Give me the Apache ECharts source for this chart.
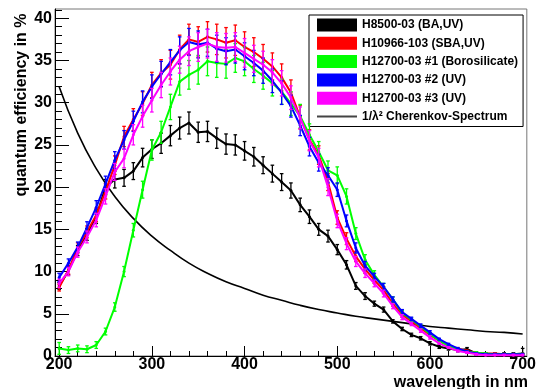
<!DOCTYPE html>
<html><head><meta charset="utf-8">
<script src="https://cdn.jsdelivr.net/npm/echarts@6/dist/echarts.min.js"></script>
<style>html,body{margin:0;padding:0;background:#fff}#c{width:539px;height:389px}</style>
</head><body><div id="c"></div>
<script>
const wavelength = [200,210,220,230,240,250,260,270,280,290,300,310,320,330,340,350,360,370,380,390,400,410,420,430,440,450,460,470,480,490,500,510,520,530,540,550,560,570,580,590,600,610,620,630,640,650,660,670,680,690,700];
const h8500 = [8.3,10.1,12.5,14.4,16.5,20.0,20.9,21.1,21.9,23.5,24.5,25.2,26.1,27.0,27.6,26.5,26.6,25.8,25.1,25.0,24.3,23.6,22.6,21.6,20.6,19.6,17.9,16.5,15.0,14.2,12.6,10.8,8.3,7.1,6.2,5.5,4.1,3.2,2.5,2.1,1.5,1.1,0.9,0.7,0.8,0.3,0.2,0.2,0.2,0.2,0.3];
const h8500Err = [0.4,0.5,0.6,0.7,0.8,0.9,1.0,1.0,1.0,1.1,1.1,1.2,1.2,1.3,1.3,1.2,1.2,1.2,1.2,1.2,1.1,1.1,1.0,1.0,1.0,0.9,0.8,0.8,0.7,0.7,0.6,0.5,0.4,0.4,0.3,0.3,0.2,0.2,0.2,0.2,0.2,0.2,0.2,0.2,0.2,0.2,0.2,0.2,0.2,0.2,0.6];
const h10966 = [8.1,10.2,12.8,14.7,16.7,19.5,22.6,26.0,28.0,29.9,32.1,33.5,34.5,36.3,37.5,37.2,37.8,37.5,37.1,37.4,36.6,36.0,35.2,34.3,33.0,31.2,28.3,25.6,23.8,20.6,16.4,13.9,11.8,10.3,9.0,7.8,6.2,4.9,4.1,3.3,2.5,1.8,1.2,0.9,0.6,0.4,0.3,0.3,0.2,0.2,0.2];
const h10966Err = [0.4,0.5,0.6,0.7,0.8,0.9,1.1,1.2,1.3,1.4,1.5,1.6,1.7,1.7,1.8,1.8,1.8,1.8,1.8,1.8,1.8,1.7,1.7,1.6,1.6,1.5,1.4,1.2,1.1,1.0,0.8,0.7,0.6,0.5,0.4,0.4,0.3,0.3,0.2,0.2,0.2,0.1,0.1,0.1,0.1,0.1,0.1,0.1,0.1,0.1,0.1];
const h12700a = [0.9,0.7,0.9,0.8,1.3,2.9,5.8,10.0,14.9,19.7,24.4,26.5,29.5,32.5,33.3,33.9,34.9,34.7,34.6,35.3,34.9,34.0,33.2,32.3,31.3,29.9,28.4,26.2,24.2,22.0,21.4,18.9,14.5,11.4,9.6,8.2,6.7,5.1,4.3,3.5,2.6,1.8,1.2,0.8,0.5,0.4,0.3,0.2,0.2,0.2,0.2];
const h12700aErr = [0.7,0.4,0.4,0.4,0.4,0.4,0.5,0.6,0.8,1.0,1.2,1.3,1.5,1.6,1.7,1.7,1.7,1.7,1.7,1.7,1.7,1.6,1.6,1.5,1.5,1.4,1.4,1.3,1.2,1.1,1.0,0.9,0.7,0.6,0.5,0.4,0.3,0.3,0.2,0.2,0.2,0.2,0.1,0.1,0.1,0.1,0.1,0.1,0.1,0.1,0.1];
const h12700b = [9.3,11.0,12.9,15.2,17.6,20.4,23.2,25.6,27.8,30.1,31.9,33.4,34.8,36.2,37.2,36.9,37.1,36.4,36.1,36.3,35.5,34.7,33.8,32.6,31.2,29.6,27.3,24.8,22.9,21.4,19.7,16.0,12.8,10.7,9.4,8.2,6.7,5.2,4.4,3.6,2.8,2.0,1.4,0.9,0.5,0.3,0.2,0.2,0.2,0.2,0.2];
const h12700bErr = [0.5,0.5,0.6,0.7,0.8,0.9,1.0,1.1,1.2,1.3,1.4,1.5,1.5,1.6,1.6,1.6,1.6,1.6,1.6,1.6,1.6,1.5,1.5,1.4,1.4,1.3,1.2,1.1,1.0,0.9,0.8,0.7,0.6,0.5,0.4,0.4,0.3,0.3,0.2,0.2,0.2,0.1,0.1,0.1,0.1,0.1,0.1,0.1,0.1,0.1,0.1];
const h12700c = [8.6,10.0,12.3,14.1,16.1,18.9,21.8,23.4,26.2,28.4,30.3,32.1,33.7,35.1,36.1,36.6,37.0,36.6,36.5,36.6,35.9,35.2,34.5,33.6,32.3,30.6,28.2,25.5,23.5,20.0,16.0,13.3,11.2,9.8,8.6,7.4,5.9,4.6,3.8,3.0,2.2,1.5,1.0,0.6,0.4,0.2,0.1,0.1,0.1,0.1,0.1];
const h12700cErr = [0.5,0.5,0.6,0.7,0.8,0.9,1.0,1.1,1.2,1.3,1.4,1.5,1.6,1.6,1.7,1.7,1.7,1.7,1.7,1.7,1.7,1.6,1.6,1.5,1.5,1.4,1.3,1.2,1.1,1.0,0.8,0.7,0.6,0.5,0.4,0.4,0.3,0.3,0.2,0.2,0.2,0.1,0.1,0.1,0.1,0.1,0.1,0.1,0.1,0.1,0.1];
const cherenkovX = [200,220,240,260,280,300,320,340,360,380,400,420,440,460,480,500,520,540,560,580,600,620,640,660,680,700];
const cherenkovY = [31.9,26.4,22.2,18.9,16.3,14.2,12.5,11.0,9.8,8.8,8.0,7.2,6.6,6.0,5.5,5.1,4.7,4.4,4.1,3.8,3.5,3.3,3.1,2.9,2.8,2.6];
const xMajorTicks = [200,300,400,500,600,700];
const xMinorTicks = [200,220,240,260,280,300,320,340,360,380,400,420,440,460,480,500,520,540,560,580,600,620,640,660,680,700];
const yMajorTicks = [0,5,10,15,20,25,30,35,40];
const yMinorTicks = [0,1,2,3,4,5,6,7,8,9,10,11,12,13,14,15,16,17,18,19,20,21,22,23,24,25,26,27,28,29,30,31,32,33,34,35,36,37,38,39,40,41];
const seriesNames = ['H8500-03 (BA,UV)','H10966-103 (SBA,UV)','H12700-03 #1 (Borosilicate)','H12700-03 #2 (UV)','H12700-03 #3 (UV)'];
const cherenkovName = '1/\u03BB\u00B2 Cherenkov-Spectrum';
const xTitle = 'wavelength in nm';
const yTitle = 'quantum efficiency in %';

const FONT = '"Liberation Sans", Arial, sans-serif';
const colors = ['#000000','#ff0000','#00ff00','#0000ff','#ff00ff'];
const values = [h8500,h10966,h12700a,h12700b,h12700c];
const errs = [h8500Err,h10966Err,h12700aErr,h12700bErr,h12700cErr];

function errRender(params, api){
  const x = api.value(0), y = api.value(1), e = api.value(2);
  const t = api.coord([x, y + e]);
  const b = api.coord([x, Math.max(0, y - e)]);
  const c = api.visual('color');
  const st = {stroke: c, lineWidth: 1.3};
  return {type:'group', children:[
    {type:'line', shape:{x1:t[0],y1:t[1],x2:b[0],y2:b[1]}, style:st},
    {type:'line', shape:{x1:t[0]-1.8,y1:t[1],x2:t[0]+1.8,y2:t[1]}, style:st},
    {type:'line', shape:{x1:b[0]-1.8,y1:b[1],x2:b[0]+1.8,y2:b[1]}, style:st}
  ]};
}

const series = [];
values.forEach((v, i) => {
  series.push({
    type:'custom', renderItem: errRender, clip: true, silent: true,
    itemStyle:{color: colors[i]}, z: 2 + i*2,
    data: wavelength.map((w, k) => [w, v[k], errs[i][k]])
  });
  series.push({
    name: seriesNames[i], type:'line', z: 3 + i*2,
    data: wavelength.map((w, k) => [w, v[k]]),
    symbol:'circle', symbolSize: 3, showSymbol: true,
    lineStyle:{color: colors[i], width: 2}, itemStyle:{color: colors[i]},
    emphasis:{disabled:true}
  });
});
series.push({
  name: cherenkovName, type:'line', smooth: true, showSymbol:false, z: 1,
  data: cherenkovX.map((w, k) => [w, cherenkovY[k]]),
  lineStyle:{color:'#000', width:1.6}, itemStyle:{color:'#333'}
});

const labelStyle = {color:'#000', fontFamily: FONT, fontWeight:'bold', fontSize:16};
const option = {
  animation:false,
  backgroundColor:'#fff',
  grid:{left:55, right:10.5, top:9, bottom:33, show:true, borderColor:'#777', borderWidth:1, backgroundColor:'transparent'},
  xAxis:[
    {type:'value', min:195.5, max:704.5, position:'bottom',
     axisLine:{show:true, onZero:false, lineStyle:{color:'#000', width:1}},
     axisTick:{show:true, inside:true, length:10, customValues: xMajorTicks, lineStyle:{color:'#000'}},
     axisLabel:{show:true, customValues: xMajorTicks, margin:1, ...labelStyle},
     splitLine:{show:false}},
    {type:'value', min:195.5, max:704.5, position:'bottom',
     axisLine:{show:false, onZero:false},
     axisTick:{show:true, inside:true, length:5, customValues: xMinorTicks, lineStyle:{color:'#000'}},
     axisLabel:{show:false}, splitLine:{show:false}}
  ],
  yAxis:[
    {type:'value', min:0, max:41.1, position:'left',
     axisLine:{show:true, onZero:false, lineStyle:{color:'#000', width:1}},
     axisTick:{show:true, inside:true, length:14, customValues: yMajorTicks, lineStyle:{color:'#000'}},
     axisLabel:{show:true, customValues: yMajorTicks, margin:3, ...labelStyle},
     splitLine:{show:false}},
    {type:'value', min:0, max:41.1, position:'left',
     axisLine:{show:false, onZero:false},
     axisTick:{show:true, inside:true, length:7, customValues: yMinorTicks, lineStyle:{color:'#000'}},
     axisLabel:{show:false}, splitLine:{show:false}}
  ],
  legend:{
    orient:'vertical', left:309, top:15,
    padding:[3.5,5,3.5,8], itemGap:5.3, itemWidth:40, itemHeight:13,
    backgroundColor:'#fff', borderColor:'#000', borderWidth:1, borderRadius:0,
    textStyle:{color:'#000', fontFamily: FONT, fontWeight:'bold', fontSize:12, lineHeight:13},
    selectedMode:false,
    data: seriesNames.map(n => ({name:n, icon:'rect'})).concat([{name: cherenkovName, icon:'path://M0,0L40,0L40,2L0,2Z', itemStyle:{color:'#444'}}])
  },
  graphic:[
    {type:'text', x:528, y:391, style:{text:xTitle, font:'bold 16px '+FONT, fill:'#000', textAlign:'right', textVerticalAlign:'bottom'}},
    {type:'text', x:22, y:105, rotation:Math.PI/2, style:{text:yTitle, font:'bold 16px '+FONT, fill:'#000', textAlign:'center', textVerticalAlign:'middle'}}
  ],
  series: series
};
const chart = echarts.init(document.getElementById('c'), null, {renderer:'canvas'});
chart.setOption(option);
</script></body></html>
